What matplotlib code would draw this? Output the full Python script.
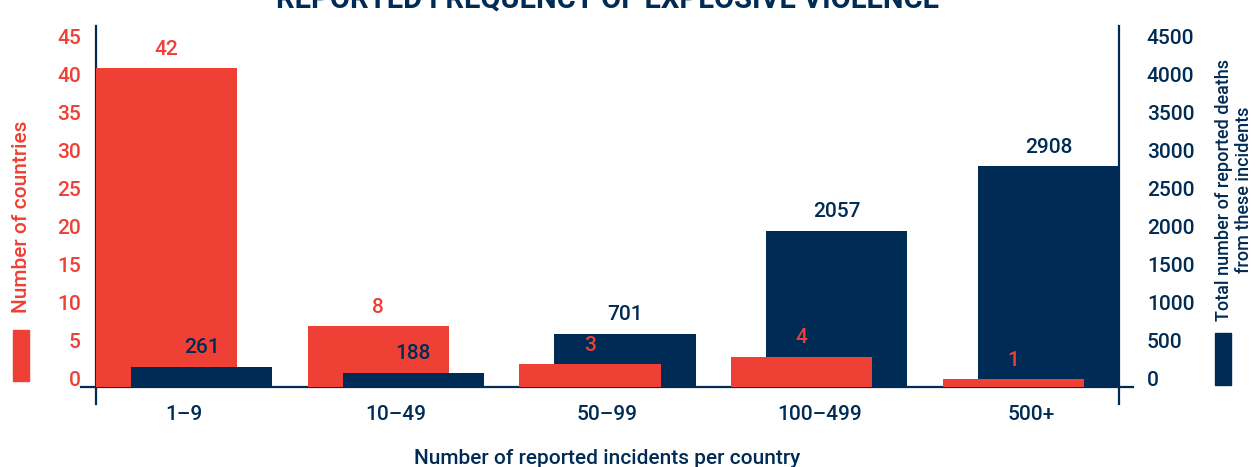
import matplotlib.pyplot as plt
import matplotlib.transforms as mtransforms
import numpy as np

plt.rcParams['font.family'] = ['Roboto', 'DejaVu Sans']
plt.rcParams['font.weight'] = 'medium'

categories = ["1–9", "10–49", "50–99", "100–499", "500+"]
countries = [42, 8, 3, 4, 1]
deaths = [261, 188, 701, 2057, 2908]
left_ticks = [0, 5, 10, 15, 20, 25, 30, 35, 40, 45]
right_ticks = [0, 500, 1000, 1500, 2000, 2500, 3000, 3500, 4000, 4500]

RED = "#EE4035"
NAVY = "#002B55"
FS = 15

fig = plt.figure(figsize=(12.57, 4.67), dpi=100)
ax = fig.add_axes([96 / 1257, 1 - 387 / 467, (1119 - 96) / 1257, (387 - 26) / 467])
ax2 = ax.twinx()

x = np.arange(len(categories))
off = 0.083
w = 0.667
ymax = 47.6

# the shorter bar of each pair sits in front
for i in range(len(categories)):
    rel_c = countries[i] / ymax
    rel_d = deaths[i] / (ymax * 100)
    zc, zd = (3, 2) if rel_c < rel_d else (2, 3)
    ax2.bar(x[i] - off, countries[i] * 100, w, color=RED, zorder=zc)
    ax2.bar(x[i] + off, deaths[i], w, color=NAVY, zorder=zd)
    ax2.annotate(str(countries[i]), (x[i] - off, countries[i] * 100),
                 xytext=(0, 7), textcoords='offset points', ha='center', va='bottom',
                 color=RED, fontsize=FS, zorder=5)
    ax2.annotate(str(deaths[i]), (x[i] + off, deaths[i]),
                 xytext=(0, 7), textcoords='offset points', ha='center', va='bottom',
                 color=NAVY, fontsize=FS, zorder=5)

ax.set_xlim(-0.416, 4.416)
ax.set_ylim(0, ymax)
ax2.set_ylim(0, ymax * 100)

for a in (ax, ax2):
    for s in a.spines.values():
        s.set_visible(False)
    a.tick_params(length=0)
ax.patch.set_visible(False)

ax.set_xticks(x)
ax.set_xticklabels(categories, fontsize=FS, color=NAVY)
ax.tick_params(axis='x', pad=13)
ax.set_yticks(left_ticks)
ax.set_yticklabels([str(t) for t in left_ticks], fontsize=FS, color=RED)
ax.tick_params(axis='y', pad=11)
ax2.set_yticks(right_ticks)
ax2.set_yticklabels([str(t) for t in right_ticks], fontsize=FS, color=NAVY)
ax2.tick_params(axis='y', pad=20)

shift = mtransforms.ScaledTranslation(0, 9 / 100, fig.dpi_scale_trans)
for lab in ax.get_yticklabels() + ax2.get_yticklabels():
    lab.set_transform(lab.get_transform() + shift)

# axis lines that run past the corners
lw = 1.6
ax.plot([-15 / 1023, 1 + 14 / 1023], [0, 0], transform=ax.transAxes, color=NAVY, lw=lw, clip_on=False, zorder=10)
ax.plot([0, 0], [-17 / 361, 1], transform=ax.transAxes, color=NAVY, lw=lw, clip_on=False, zorder=10)
ax.plot([1, 1], [-17 / 361, 1], transform=ax.transAxes, color=NAVY, lw=lw, clip_on=False, zorder=10)

fig.text(22 / 1257, 1 - 217 / 467, "Number of countries", rotation=90, color=RED,
         fontsize=FS, ha='center', va='center')
fig.patches.append(plt.Rectangle((13 / 1257, 1 - 381 / 467), 16 / 1257, 51 / 467,
                                 transform=fig.transFigure, color=RED))
fig.text(1234 / 1257, 1 - 190 / 467, "Total number of reported deaths\nfrom these incidents",
         rotation=90, color=NAVY, fontsize=13, ha='center', va='center', linespacing=1.1)
fig.patches.append(plt.Rectangle((1215 / 1257, 1 - 385 / 467), 16 / 1257, 52 / 467,
                                 transform=fig.transFigure, color=NAVY))

fig.text(607 / 1257, 1 - 458 / 467, "Number of reported incidents per country",
         color=NAVY, fontsize=FS, ha='center', va='center')
fig.text(608 / 1257, 1 - 8 / 467, "REPORTED FREQUENCY OF EXPLOSIVE VIOLENCE",
         color=NAVY, fontsize=21, fontweight='bold', ha='center', va='baseline')

fig.savefig("out.png", dpi=100)
